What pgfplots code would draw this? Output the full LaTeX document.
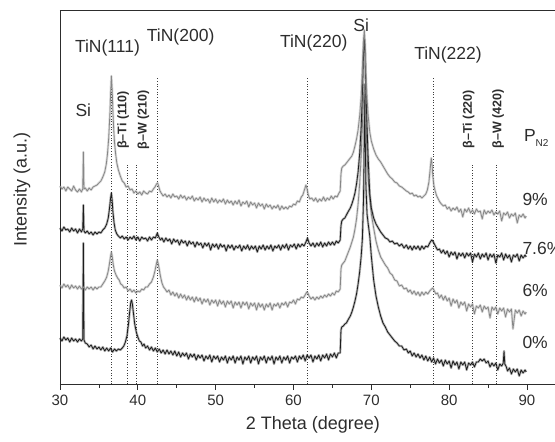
\documentclass[border=0pt]{standalone}
\usepackage{pgfplots}
\pgfplotsset{compat=1.18}
\usepackage{fontspec}
\setmainfont{Liberation Sans}
\definecolor{tgray}{RGB}{135,135,135}
\definecolor{tblack}{RGB}{28,28,28}
\definecolor{txt}{RGB}{45,45,45}
\definecolor{dotc}{RGB}{60,60,60}
\begin{document}
\begin{tikzpicture}
\begin{axis}[
  scale only axis, width=495pt, height=374pt,
  xmin=30, xmax=93.6, ymin=0, ymax=374,
  axis x line=box, axis y line=left, axis line style={-, draw=txt, line width=0.9pt},
  xtick={30,40,50,60,70,80,90}, minor xtick={35,45,55,65,75,85,95},
  xtick pos=left, ytick=\empty,
  tick style={draw=txt, line width=0.8pt},
  major tick length=6pt, minor tick length=3.5pt,
  xtick align=outside,
  /pgf/number format/assume math mode=true,
  xticklabel style={font=\fontsize{15}{16}\selectfont, text=txt, yshift=-1pt},
  xlabel={2 Theta (degree)}, ylabel={Intensity (a.u.)},
  label style={font=\fontsize{18}{20}\selectfont, text=txt},
  xlabel style={at={(axis description cs:0.511,-0.11)}, anchor=center},
  ylabel style={at={(axis description cs:-0.077,0.519)}, anchor=center, rotate=0},
  clip=false,
  every axis plot/.append style={line width=0.8pt, line join=round,
     preaction={draw, line width=2.4pt, draw opacity=0.3}},
]
\coordinate (ll) at (rel axis cs:0,0);
\coordinate (ur) at (rel axis cs:1,1);
% dotted reference lines
\foreach \xx/\yy in {36.6/307, 42.5/307, 61.8/307, 77.95/307, 38.7/221, 39.85/221, 83.0/221, 86.0/221}{
  \edef\tmp{\noexpand\draw[dotc, dotted, line width=0.7pt] (axis cs:\xx,0) -- (axis cs:\xx,\yy);}\tmp
}
% 0%
\addplot[tblack] coordinates {(30,46)(30.25,43)(30.5,47)(30.75,44)(31,46)(31.25,42)(31.5,46)(31.75,43)(32,45)(32.25,42)(32.5,45)(32.75,43)(32.92,45)(33.0,141)(33.08,44)(33.25,41)(33.5,40)(33.75,37)(34,39)(34.25,35)(34.5,38)(34.75,35)(35,37)(35.25,34)(35.5,37)(35.75,33)(36,36)(36.25,33)(36.5,36)(36.75,32)(37,35)(37.25,33)(37.5,35)(37.75,34)(38,36)(38.2,38)(38.4,42)(38.6,48)(38.8,60)(38.95,72)(39.1,82)(39.2,84)(39.3,80)(39.45,70)(39.6,60)(39.8,52)(40.0,47)(40.2,43)(40.4,42)(40.6,38)(40.8,40)(41,36)(41.25,38)(41.5,34)(41.75,37)(42,33)(42.25,36)(42.5,32)(42.75,35)(43,31)(43.25,34)(43.5,30)(43.75,34)(44,30)(44.25,33)(44.5,29)(44.75,33)(45,28)(45.25,32)(45.5,27)(45.75,31)(46,28)(46.25,31)(46.5,25)(46.75,30)(47,27)(47.25,30)(47.5,24)(47.75,29)(48,26)(48.25,29)(48.5,23)(48.75,28)(49,25)(49.25,29)(49.5,22)(49.75,28)(50,25)(50.25,28)(50.5,22)(50.75,27)(51,24)(51.25,28)(51.5,21)(51.75,27)(52,24)(52.25,28)(52.5,21)(52.75,27)(53,24)(53.25,28)(53.5,20)(53.75,27)(54,24)(54.25,28)(54.5,21)(54.75,27)(55,24)(55.25,28)(55.5,20)(55.75,27)(56,24)(56.25,28)(56.5,21)(56.75,27)(57,24)(57.25,28)(57.5,20)(57.75,27)(58,24)(58.25,28)(58.5,21)(58.75,27)(59,24)(59.25,28)(59.5,21)(59.75,27)(60,25)(60.25,28)(60.5,22)(60.75,28)(61,25)(61.25,29)(61.5,23)(61.75,29)(62,26)(62.25,29)(62.5,22)(62.75,28)(63,25)(63.25,29)(63.5,23)(63.75,29)(64,26)(64.25,30)(64.5,24)(64.75,30)(65,27)(65.25,31)(65.5,26)(65.75,31)(66.0,31)(66.1,54)(66.2,57)(66.4,58)(66.6,60)(66.8,61)(67.0,64)(67.3,68)(67.5,72)(67.7,77)(67.9,83)(68.1,90)(68.3,100)(68.5,112)(68.7,128)(68.85,145)(69.0,185)(69.1,250)(69.15,290)(69.2,260)(69.3,200)(69.45,170)(69.6,160)(69.8,148)(70.0,128)(70.3,104)(70.6,88)(70.9,77)(71.2,68)(71.5,61)(71.8,57)(72.1,52)(72.4,49)(72.7,46)(73.0,43)(73.3,41)(73.6,38)(73.9,38)(74.2,34)(74.5,35)(74.75,31)(75,33)(75.25,28)(75.5,31)(75.75,27)(76,30)(76.25,26)(76.5,29)(76.75,24)(77,28)(77.25,23)(77.5,27)(77.75,22)(78,26)(78.25,20)(78.5,25)(78.75,21)(79,24)(79.25,18)(79.5,24)(79.75,20)(80,23)(80.25,16)(80.5,23)(80.75,19)(81,22)(81.25,15)(81.5,22)(81.75,19)(82,22)(82.25,14)(82.5,21)(82.75,19)(83,22)(83.25,17)(83.5,22)(83.75,22)(84,25)(84.25,23)(84.5,25)(84.75,21)(85,23)(85.25,17)(85.5,21)(85.75,18)(86,21)(86.25,14)(86.5,20)(86.75,18)(86.95,21)(87.05,33)(87.15,20)(87.35,17)(87.5,13)(87.75,16)(88,10)(88.25,15)(88.5,12)(88.75,15)(89,8)(89.25,14)(89.5,11)(89.75,14)(89.9,12)};
% 6%
\addplot[tgray] coordinates {(30,99)(30.25,96)(30.5,100)(30.75,97)(31,99)(31.25,95)(31.5,99)(31.75,96)(32,98)(32.25,95)(32.5,98)(32.75,95)(33,97)(33.25,94)(33.5,97)(33.75,95)(34,97)(34.25,94)(34.5,97)(34.75,95)(35,97)(35.25,97)(35.5,100)(35.75,103)(36,107)(36.2,113)(36.35,120)(36.5,128)(36.6,132)(36.7,128)(36.85,119)(37.0,113)(37.2,109)(37.4,106)(37.6,104)(37.8,100)(38,99)(38.25,96)(38.5,97)(38.75,93)(39,95)(39.25,92)(39.5,94)(39.75,91)(40,93)(40.25,92)(40.5,95)(40.75,94)(41,97)(41.25,97)(41.5,100)(41.75,102)(42.0,107)(42.2,113)(42.35,119)(42.5,124)(42.6,121)(42.75,115)(42.9,108)(43.1,101)(43.3,97)(43.5,95)(43.75,92)(44,94)(44.25,89)(44.5,92)(44.75,88)(45,91)(45.25,86)(45.5,90)(45.75,86)(46,89)(46.25,84)(46.5,88)(46.75,84)(47,87)(47.25,82)(47.5,87)(47.75,83)(48,86)(48.25,80)(48.5,85)(48.75,82)(49,85)(49.25,79)(49.5,84)(49.75,81)(50,84)(50.25,78)(50.5,84)(50.75,80)(51,83)(51.25,77)(51.5,83)(51.75,80)(52,83)(52.25,76)(52.5,82)(52.75,79)(53,82)(53.25,76)(53.5,82)(53.75,79)(54,82)(54.25,75)(54.5,81)(54.75,78)(55,81)(55.25,74)(55.5,81)(55.75,77)(56,80)(56.25,74)(56.5,80)(56.75,77)(57,81)(57.25,74)(57.5,80)(57.75,78)(58,81)(58.25,76)(58.5,81)(58.75,79)(59,82)(59.25,77)(59.5,82)(59.75,81)(60,84)(60.25,80)(60.5,85)(60.75,84)(61,87)(61.25,86)(61.5,89)(61.7,92)(61.85,91)(62.0,88)(62.25,85)(62.5,87)(62.75,84)(63,87)(63.25,85)(63.5,88)(63.75,86)(64,89)(64.25,87)(64.5,90)(64.75,88)(65,91)(65.25,89)(65.5,93)(65.75,92)(66.0,95)(66.1,115)(66.2,119)(66.4,121)(66.6,123)(66.8,127)(67.0,131)(67.3,137)(67.5,142)(67.7,147)(67.9,155)(68.1,165)(68.3,180)(68.5,200)(68.7,228)(68.85,258)(69.0,285)(69.1,300)(69.2,290)(69.3,262)(69.45,230)(69.6,205)(69.8,186)(70.0,170)(70.3,156)(70.6,143)(70.9,134)(71.2,127)(71.5,123)(71.8,119)(72.1,116)(72.4,111)(72.7,109)(73.0,104)(73.3,103)(73.6,98)(73.9,99)(74.2,95)(74.5,96)(74.75,92)(75,94)(75.25,90)(75.5,93)(75.75,89)(76,92)(76.25,88)(76.5,92)(76.75,89)(77,92)(77.25,90)(77.5,93)(77.75,95)(77.9,96)(78.1,93)(78.3,90)(78.5,91)(78.75,86)(79,89)(79.25,84)(79.5,88)(79.75,83)(80,86)(80.25,78)(80.5,85)(80.75,81)(81,84)(81.25,76)(81.5,82)(81.75,79)(82,82)(82.25,73)(82.5,80)(82.75,77)(83,80)(83.25,70)(83.5,78)(83.75,76)(84,79)(84.25,72)(84.5,78)(84.75,75)(85,77)(85.25,66)(85.5,77)(85.75,74)(86,77)(86.25,70)(86.5,76)(86.75,73)(87,76)(87.25,67)(87.5,75)(87.75,72)(88,75)(88.2,55)(88.5,74)(88.75,71)(89,74)(89.25,68)(89.5,73)(89.75,70)(89.9,72)};
% 7.6%
\addplot[tblack] coordinates {(30,156)(30.25,153)(30.5,157)(30.75,154)(31,155)(31.25,152)(31.5,156)(31.75,153)(32,155)(32.25,151)(32.5,155)(32.75,152)(32.92,155)(33.0,179)(33.08,153)(33.25,151)(33.5,153)(33.75,150)(34,152)(34.25,149)(34.5,152)(34.75,150)(35,152)(35.25,151)(35.5,154)(35.75,156)(36,160)(36.2,166)(36.35,175)(36.5,186)(36.6,191)(36.7,184)(36.8,172)(36.95,161)(37.1,154)(37.3,150)(37.5,148)(37.75,146)(38,148)(38.25,145)(38.5,147)(38.75,144)(39,147)(39.25,145)(39.5,148)(39.75,144)(40,147)(40.25,143)(40.5,147)(40.75,145)(41,146)(41.25,143)(41.5,147)(41.75,144)(42,147)(42.25,146)(42.5,151)(42.7,147)(42.9,144)(43.1,146)(43.35,142)(43.6,146)(43.85,143)(44.1,145)(44.35,140)(44.6,145)(44.85,142)(45.1,144)(45.35,139)(45.6,144)(45.85,141)(46.1,143)(46.35,138)(46.6,143)(46.85,140)(47.1,142)(47.35,137)(47.6,142)(47.85,139)(48.1,141)(48.35,136)(48.6,141)(48.85,138)(49.1,141)(49.35,134)(49.6,140)(49.85,137)(50.1,140)(50.35,135)(50.6,140)(50.85,137)(51.1,139)(51.35,133)(51.6,139)(51.85,136)(52.1,139)(52.35,134)(52.6,138)(52.85,136)(53.1,139)(53.35,133)(53.6,138)(53.85,135)(54.1,139)(54.35,134)(54.6,138)(54.85,135)(55.1,138)(55.35,132)(55.6,138)(55.85,135)(56.1,139)(56.35,134)(56.6,138)(56.85,135)(57.1,139)(57.35,133)(57.6,138)(57.85,136)(58.1,139)(58.35,134)(58.6,139)(58.85,136)(59.1,140)(59.35,134)(59.6,139)(59.85,137)(60.1,140)(60.35,135)(60.6,140)(60.85,137)(61.1,140)(61.35,138)(61.6,142)(61.8,146)(62.0,141)(62.25,138)(62.5,141)(62.75,137)(63,141)(63.25,138)(63.5,142)(63.75,137)(64,141)(64.25,138)(64.5,142)(64.75,139)(65,142)(65.25,139)(65.5,143)(65.75,141)(66.0,144)(66.1,158)(66.2,163)(66.4,165)(66.6,166)(66.8,169)(67.0,172)(67.3,176)(67.5,180)(67.7,185)(67.9,191)(68.1,200)(68.3,212)(68.5,230)(68.7,258)(68.85,290)(69.0,330)(69.1,345)(69.2,330)(69.3,295)(69.45,258)(69.6,225)(69.8,190)(70.0,176)(70.3,166)(70.6,160)(70.9,156)(71.2,152)(71.5,149)(71.8,146)(72.1,145)(72.4,142)(72.7,143)(73.0,140)(73.3,141)(73.6,138)(73.9,140)(74.2,136)(74.5,139)(74.75,135)(75,138)(75.25,134)(75.5,138)(75.75,135)(76,138)(76.25,134)(76.5,138)(76.75,135)(77,138)(77.25,137)(77.5,141)(77.75,144)(77.9,143)(78.1,140)(78.3,137)(78.5,134)(78.75,135)(79,131)(79.25,134)(79.5,130)(79.75,133)(80,127)(80.25,132)(80.5,129)(80.75,132)(81,125)(81.25,131)(81.5,128)(81.75,131)(82,126)(82.25,131)(82.5,128)(82.75,131)(83,122)(83.25,130)(83.5,127)(83.75,131)(84,125)(84.25,130)(84.5,127)(84.75,131)(85,124)(85.25,130)(85.5,127)(85.75,130)(86,121)(86.25,129)(86.5,127)(86.75,131)(87,124)(87.25,130)(87.5,126)(87.75,129)(88,122)(88.25,129)(88.5,127)(88.75,130)(89,123)(89.25,129)(89.5,126)(89.75,129)(89.9,127)};
% 9%
\addplot[tgray] coordinates {(30,198)(30.25,195)(30.5,197)(30.75,193)(31,197)(31.25,195)(31.5,193)(31.75,198)(32,194)(32.25,192)(32.5,195)(32.75,192)(32.92,195)(33.0,232)(33.08,195)(33.25,196)(33.5,193)(33.75,196)(34,194)(34.25,197)(34.5,198)(34.75,199)(35,201)(35.25,203)(35.5,207)(35.75,212)(35.95,220)(36.1,230)(36.25,245)(36.4,268)(36.5,290)(36.6,308)(36.7,295)(36.8,272)(36.9,255)(37.0,242)(37.15,230)(37.3,221)(37.5,214)(37.75,208)(38,203)(38.25,201)(38.5,197)(38.75,198)(39,194)(39.25,195)(39.5,191)(39.75,193)(40,190)(40.25,192)(40.5,189)(40.75,193)(41,191)(41.25,190)(41.5,193)(41.75,192)(42,195)(42.2,197)(42.4,200)(42.55,201)(42.7,197)(42.85,193)(43,191)(43.25,188)(43.5,190)(43.75,187)(44,189)(44.25,186)(44.5,190)(44.75,187)(45,188)(45.25,185)(45.5,189)(45.75,186)(46,188)(46.25,184)(46.5,187)(46.75,185)(47,188)(47.25,183)(47.5,186)(47.75,184)(48,187)(48.25,182)(48.5,186)(48.75,183)(49,185)(49.25,181)(49.5,186)(49.75,182)(50,185)(50.25,181)(50.5,184)(50.75,182)(51,185)(51.25,180)(51.5,184)(51.75,181)(52,183)(52.25,179)(52.5,183)(52.75,180)(53,184)(53.25,178)(53.5,182)(53.75,180)(54,183)(54.25,177)(54.5,182)(54.75,179)(55,181)(55.25,176)(55.5,181)(55.75,178)(56,180)(56.25,175)(56.5,180)(56.75,177)(57,179)(57.25,175)(57.5,178)(57.75,176)(58,179)(58.25,174)(58.5,178)(58.75,175)(59,177)(59.25,175)(59.5,178)(59.75,177)(60,180)(60.25,179)(60.5,183)(60.75,182)(61,187)(61.2,189)(61.4,194)(61.6,199)(61.75,195)(61.9,189)(62.1,185)(62.35,186)(62.6,183)(62.85,186)(63.1,182)(63.35,185)(63.6,183)(63.85,187)(64.1,183)(64.35,186)(64.6,184)(64.85,188)(65.1,185)(65.35,188)(65.6,187)(65.85,191)(66.0,193)(66.1,210)(66.2,216)(66.4,218)(66.6,219)(66.8,221)(67.0,223)(67.3,226)(67.5,228)(67.7,232)(67.9,238)(68.1,245)(68.3,254)(68.5,268)(68.7,288)(68.85,315)(69.0,345)(69.1,354)(69.2,340)(69.3,310)(69.45,285)(69.6,268)(69.8,252)(70.0,243)(70.3,235)(70.6,229)(70.9,225)(71.2,222)(71.5,218)(71.8,214)(72.1,210)(72.4,207)(72.7,205)(73.0,202)(73.3,201)(73.6,198)(73.9,197)(74.2,195)(74.5,193)(74.75,192)(75,190)(75.25,191)(75.5,188)(75.75,189)(76,187)(76.25,188)(76.5,186)(76.75,188)(77.0,190)(77.2,194)(77.4,202)(77.55,214)(77.7,226)(77.8,220)(77.9,208)(78.05,198)(78.2,193)(78.4,188)(78.6,185)(78.8,182)(79,180)(79.25,178)(79.5,179)(79.75,175)(80,177)(80.25,173)(80.5,176)(80.75,174)(81,177)(81.25,172)(81.5,175)(81.75,167)(82,175)(82.25,172)(82.5,176)(82.75,171)(83,174)(83.25,170)(83.5,175)(83.75,172)(84,173)(84.25,165)(84.5,174)(84.75,170)(85,173)(85.25,171)(85.5,174)(85.75,169)(86,172)(86.25,170)(86.5,173)(86.75,163)(87,171)(87.25,169)(87.5,172)(87.75,166)(88,170)(88.25,168)(88.5,171)(88.75,161)(89,169)(89.25,167)(89.5,170)(89.75,166)(89.9,168)};
% labels
\begin{scope}[every node/.style={font=\fontsize{17.5}{18}\selectfont, text=txt, inner sep=0pt}]
\node at (axis cs:33.0,274) {Si};
\node at (axis cs:36.1,336) {TiN(111)};
\node at (axis cs:45.5,347) {TiN(200)};
\node at (axis cs:62.6,341) {TiN(220)};
\node at (axis cs:68.7,359) {Si};
\node at (axis cs:79.85,329) {TiN(222)};
\node[anchor=west] at (axis cs:89.4,185) {9\%};
\node[anchor=west] at (axis cs:89.4,136) {7.6\%};
\node[anchor=west] at (axis cs:89.4,94) {6\%};
\node[anchor=west] at (axis cs:89.4,42) {0\%};
\node[anchor=west] at (axis cs:89.6,246) {P\raisebox{-0.45ex}{\fontsize{10}{10}\selectfont N2}};
\end{scope}
\begin{scope}[every node/.style={font=\bfseries\fontsize{12.5}{13}\selectfont, text=txt, inner sep=0pt, rotate=90}]
\node at (axis cs:38.1,264) {β–Ti (110)};
\node at (axis cs:40.7,264) {β–W (210)};
\node at (axis cs:82.5,265) {β–Ti (220)};
\node at (axis cs:86.3,265) {β–W (420)};
\end{scope}
\end{axis}
\pgfresetboundingbox
\path[use as bounding box] ([shift={(-60pt,-58pt)}]ll) rectangle ([shift={(0pt,10pt)}]ur);
\end{tikzpicture}
\end{document}
